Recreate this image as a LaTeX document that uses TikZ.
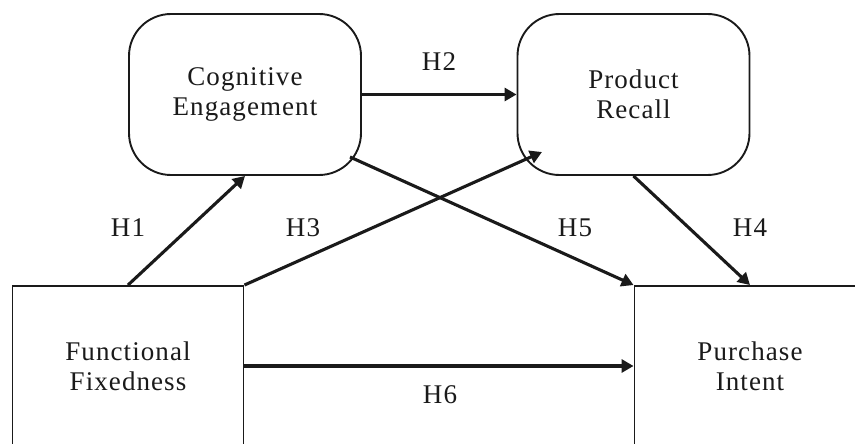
\documentclass[tikz,border=0pt]{standalone}
\usepackage{fontspec}
\setmainfont{Liberation Serif}[LetterSpace=4]
\usetikzlibrary{arrows.meta,calc}
\definecolor{ink}{HTML}{1A1A1A}
\tikzset{
  construct/.style={draw=ink, line width=1.9pt, rectangle, align=center,
    text=ink, font=\fontsize{27}{30}\selectfont, inner sep=0pt},
  rbox/.style={construct, rounded corners=42pt, minimum width=232pt, minimum height=161pt},
  sbox/.style={construct, minimum width=231pt, minimum height=160pt},
  path/.style={draw=ink, line width=3.1pt, -{Triangle[length=12pt,width=13pt]}},
  hlabel/.style={text=ink, font=\fontsize{27}{30}\selectfont, inner sep=0pt}
}
\begin{document}
\begin{tikzpicture}[x=1pt,y=-1pt]
  \fill[white] (0,0) rectangle (855,444);
  \clip (0,0) rectangle (855,444);
  \node[rbox] (CE) at (245,94.5) {Cognitive\\Engagement};
  \node[rbox] (PR) at (633.5,94.5) {Product\\Recall};
  \node[sbox] (FF) at (128,366) {Functional\\Fixedness};
  \node[sbox] (PI) at (750,366) {Purchase\\Intent};
  \coordinate (h3end) at (542,152);
  \coordinate (h5start) at (350,157);
  \draw[path] (FF.north) -- (CE.south);
  \draw[path] (CE.east) -- (PR.west);
  \draw[path] (FF.north east) -- (h3end);
  \draw[path] (h5start) -- (PI.north west);
  \draw[path] (PR.south) -- (PI.north);
  \draw[path] (FF.east) -- (PI.west);
  \node[hlabel] (l1) at (128,228) {H1};
  \node[hlabel] (l2) at (439,62) {H2};
  \node[hlabel] (l3) at (303,228) {H3};
  \node[hlabel] (l4) at (750,228) {H4};
  \node[hlabel] (l5) at (575,228) {H5};
  \node[hlabel] (l6) at (440,395) {H6};
\end{tikzpicture}
\end{document}
